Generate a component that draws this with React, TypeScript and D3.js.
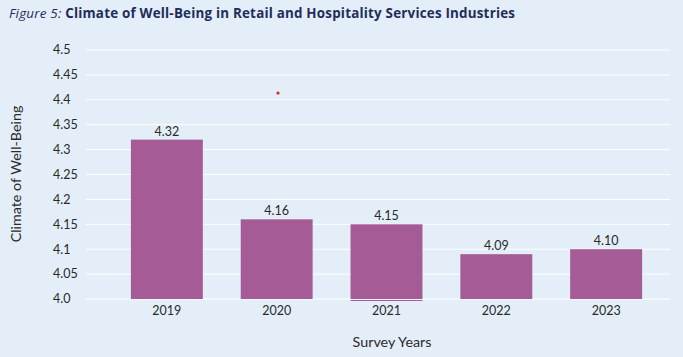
import React from "react";
import * as d3 from "d3";

const years = ["2019", "2020", "2021", "2022", "2023"];
const values = [4.32, 4.16, 4.15, 4.09, 4.1];
const valueLabels = ["4.32", "4.16", "4.15", "4.09", "4.10"];
const tickValues = [4.0, 4.05, 4.1, 4.15, 4.2, 4.25, 4.3, 4.35, 4.4, 4.45, 4.5];
const tickLabels = ["4.0", "4.05", "4.1", "4.15", "4.2", "4.25", "4.3", "4.35", "4.4", "4.45", "4.5"];

const W = 683;
const H = 357;
const BG = "#e3eef8";
const BAR = "#a55b95";
const TEXT = "#2a2a2a";
const FONT = "Lato, 'Open Sans', sans-serif";
const TFONT = "'Open Sans', Lato, sans-serif";

export default function App() {
  const x = d3.scaleBand<string>().domain(years).range([112, 661]).paddingInner(0.345).paddingOuter(0.172);
  const y = d3.scaleLinear().domain([4.0, 4.5]).range([299, 50]);
  return (
    <svg width={W} height={H} style={{ position: "absolute", left: 0, top: 0, display: "block" }}>
      <rect x={0} y={0} width={W} height={H} fill={BG} />
      <text x={9} y={18} fontFamily={TFONT} fontSize={13.4} fill="#1f2d5c" textLength={506} lengthAdjust="spacing">
        <tspan fontStyle="italic">Figure 5: </tspan>
        <tspan fontWeight="bold">Climate of Well-Being in Retail and Hospitality Services Industries</tspan>
      </text>
      {tickValues.map((t, i) => (
        <g key={i}>
          <line x1={86} x2={670} y1={y(t)} y2={y(t)} stroke="#ffffff" strokeWidth={1} />
          <text x={53} y={y(t)} dy="0.35em" fontFamily={FONT} fontSize={12.5} fill={TEXT}>
            {tickLabels[i]}
          </text>
        </g>
      ))}
      {years.map((yr, i) => (
        <g key={yr}>
          <rect x={x(yr)} y={y(values[i])} width={x.bandwidth()} height={y(4.0) - y(values[i])} fill={BAR} />
          <text x={(x(yr) as number) + x.bandwidth() / 2} y={y(values[i]) - 4} textAnchor="middle" fontFamily={FONT} fontSize={12.5} fill={TEXT}>
            {valueLabels[i]}
          </text>
          <text x={(x(yr) as number) + x.bandwidth() / 2} y={315} textAnchor="middle" fontFamily={FONT} fontSize={12.5} fill={TEXT}>
            {yr}
          </text>
        </g>
      ))}
      <rect x={x("2021")} y={y(4.0) + 1} width={x.bandwidth()} height={1} fill={BAR} />
      <circle cx={278} cy={93} r={1.6} fill="#e02020" />
      <text x={392} y={347} textAnchor="middle" fontFamily={FONT} fontSize={14.3} fill={TEXT}>
        Survey Years
      </text>
      <text transform="translate(21,174) rotate(-90)" textAnchor="middle" fontFamily={FONT} fontSize={14.3} fill={TEXT}>
        Climate of Well-Being
      </text>
    </svg>
  );
}
